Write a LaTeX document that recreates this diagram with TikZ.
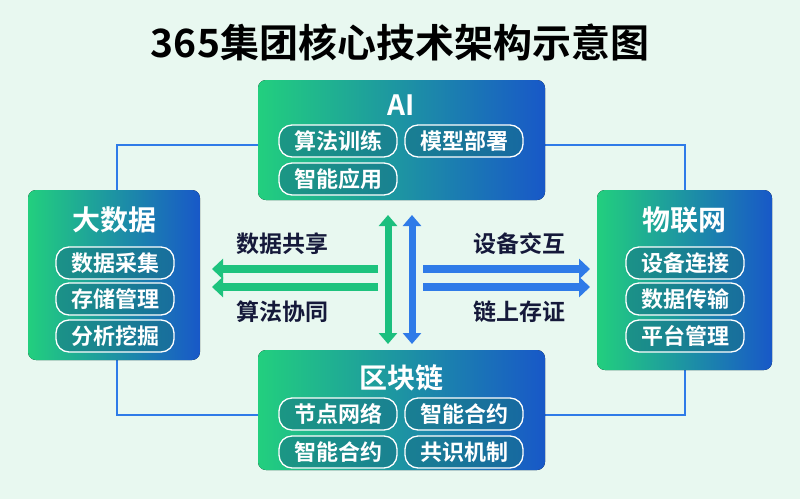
\documentclass[tikz,border=0pt]{standalone}
\usepackage{fontspec}
\setmainfont{Noto Sans CJK SC}
\newfontfamily\cjkb{Noto Sans CJK SC}[BoldFont={* Bold}]
\usetikzlibrary{arrows.meta}
\definecolor{gA}{HTML}{22CF7E}
\definecolor{bA}{HTML}{1858C8}
\definecolor{ln}{HTML}{2F7BE8}
\definecolor{bg}{HTML}{E8F8F0}
\definecolor{tx}{HTML}{15193A}
\begin{document}
\begin{tikzpicture}[x=1pt,y=-1pt,
  box/.style={rounded corners=8pt,left color=gA,right color=bA,draw=none},
  pill/.style={rounded corners=13pt,fill=bA!55!gA!80!black,fill opacity=0.55,draw=white,line width=1.3pt,text opacity=1,text=white,font=\cjkb\bfseries\fontsize{22}{22}\selectfont,minimum width=118pt,minimum height=32pt,inner sep=0pt},
  ttl/.style={text=white,font=\cjkb\bfseries\fontsize{28}{28}\selectfont},
  conn/.style={draw=ln,line width=2pt},
  lbl/.style={text=tx,font=\cjkb\bfseries\fontsize{23}{23}\selectfont},
  garr/.style={line width=8pt,-{Triangle[length=11pt,width=20pt]}},
]
\fill[bg] (0,0) rectangle (800,499);
\useasboundingbox (0,0) rectangle (800,499);
\node[font=\cjkb\bfseries\fontsize{39}{39}\selectfont,text=black] (title) at (400,42) {365集团核心技术架构示意图};
% connectors
\coordinate (c1) at (117,145); \coordinate (c2) at (685,145);
\coordinate (c3) at (117,415); \coordinate (c4) at (685,415);
\node (ai) at (401.5,140) [minimum width=287pt,minimum height=120pt] {};
\node (bd) at (114,275) [minimum width=172pt,minimum height=170pt] {};
\node (iot) at (684.5,280) [minimum width=175pt,minimum height=180pt] {};
\node (bc) at (401.5,410) [minimum width=287pt,minimum height=120pt] {};
\draw[conn] (ai.west |- c1) -- (c1) -- (bd.north -| c1);
\draw[conn] (ai.east |- c2) -- (c2) -- (iot.north -| c2);
\draw[conn] (bd.south -| c3) -- (c3) -- (bc.west |- c3);
\draw[conn] (iot.south -| c4) -- (c4) -- (bc.east |- c4);
% boxes
\fill[box] (258,80) rectangle (545,200);
\fill[box] (28,190) rectangle (200,360);
\fill[box] (597,190) rectangle (772,370);
\fill[box] (258,350) rectangle (545,470);
\node[ttl] (t1) at (401.5,105) {AI};
\node[ttl] (t2) at (114,220) {大数据};
\node[ttl] (t3) at (684.5,220) {物联网};
\node[ttl] (t4) at (401.5,378) {区块链};
\node[pill] (p1) at (338,141) {算法训练};
\node[pill] (p2) at (464,141) {模型部署};
\node[pill] (p3) at (338,179) {智能应用};
\node[pill] (p4) at (115,263) {数据采集};
\node[pill] (p5) at (115,299) {存储管理};
\node[pill] (p6) at (115,336) {分析挖掘};
\node[pill] (p7) at (685,263) {设备连接};
\node[pill] (p8) at (685,299) {数据传输};
\node[pill] (p9) at (685,336) {平台管理};
\node[pill] (p10) at (338,414) {节点网络};
\node[pill] (p11) at (464,414) {智能合约};
\node[pill] (p12) at (338,452) {智能合约};
\node[pill] (p13) at (464,452) {共识机制};
% center arrows
\coordinate (l1s) at (378,269); \coordinate (l1e) at (212,269);
\coordinate (l2s) at (378,287); \coordinate (l2e) at (212,287);
\coordinate (r1s) at (423,269); \coordinate (r1e) at (590,269);
\coordinate (r2s) at (423,287); \coordinate (r2e) at (590,287);
\coordinate (v1a) at (388,215); \coordinate (v1b) at (388,344);
\coordinate (v2a) at (412,215); \coordinate (v2b) at (412,344);
\draw[garr,draw=gA!85!teal] (l1s) -- (l1e);
\draw[garr,draw=gA!85!teal] (l2s) -- (l2e);
\draw[garr,draw=ln] (r1s) -- (r1e);
\draw[garr,draw=ln] (r2s) -- (r2e);
\draw[line width=7pt,draw=gA!80!teal,{Triangle[length=11pt,width=18pt]}-{Triangle[length=11pt,width=18pt]}] (v1a) -- (v1b);
\draw[line width=7pt,draw=ln,{Triangle[length=11pt,width=18pt]}-{Triangle[length=11pt,width=18pt]}] (v2a) -- (v2b);
\node[lbl] (a1) at (282,244) {数据共享};
\node[lbl] (a2) at (282,312) {算法协同};
\node[lbl] (a3) at (519,244) {设备交互};
\node[lbl] (a4) at (519,312) {链上存证};
\end{tikzpicture}
\end{document}
